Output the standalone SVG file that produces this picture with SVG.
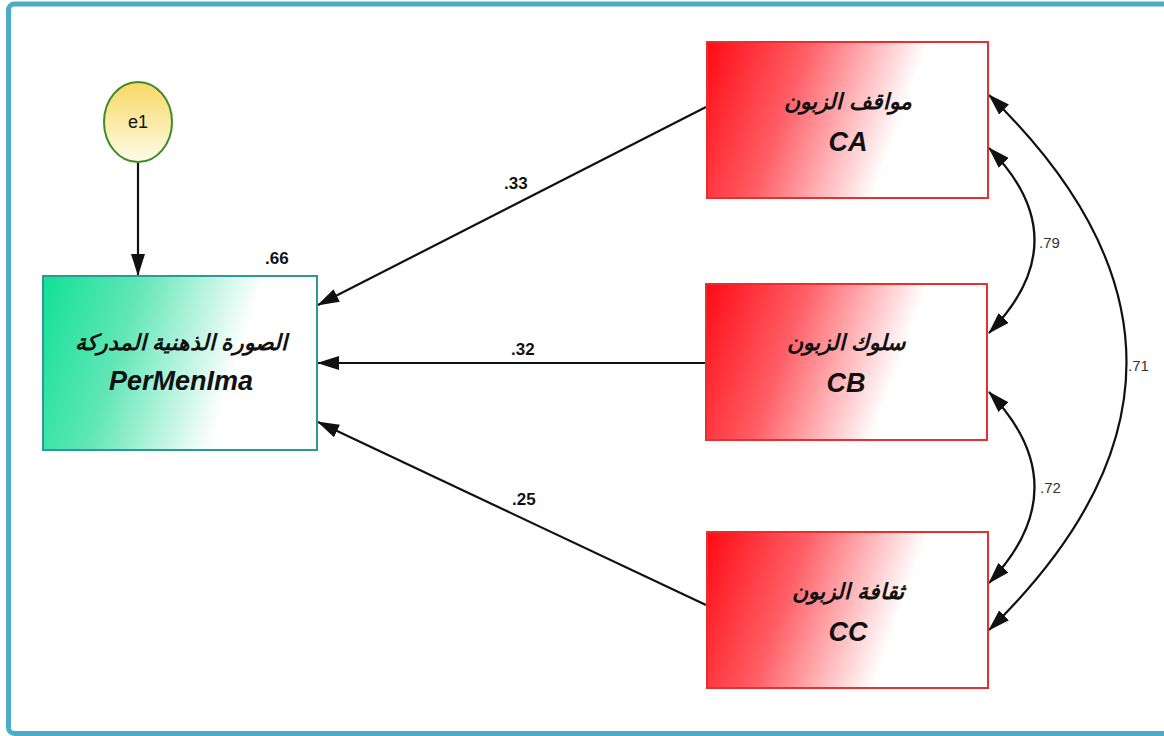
<svg xmlns="http://www.w3.org/2000/svg" width="1164" height="736" viewBox="0 0 1164 736">
<style>
.lbl{font-family:"Liberation Sans","DejaVu Sans",sans-serif;font-weight:bold;font-size:17px;fill:#111}
.cor{font-family:"Liberation Sans","DejaVu Sans",sans-serif;font-size:15px;fill:#333}
.ar{font-family:"Liberation Sans","DejaVu Sans",sans-serif;font-weight:bold;font-style:italic;font-size:22px;fill:#111;text-anchor:middle}
.en{font-family:"Liberation Sans","DejaVu Sans",sans-serif;font-weight:bold;font-style:italic;font-size:27px;fill:#111;text-anchor:middle}
.conn{stroke:#111;stroke-width:2.2;fill:none}
.red{fill:url(#gRed);stroke:#e53030;stroke-width:2}
</style>
<defs>
<linearGradient id="gRed" x1="0" y1="0" x2="1" y2="0.2">
<stop offset="0" stop-color="#ff0a14"/>
<stop offset="0.35" stop-color="#ff5e66"/>
<stop offset="0.76" stop-color="#ffffff"/>
</linearGradient>
<linearGradient id="gGreen" x1="0" y1="0" x2="1" y2="0.2">
<stop offset="0" stop-color="#12e096"/>
<stop offset="0.35" stop-color="#62e6b8"/>
<stop offset="0.78" stop-color="#ffffff"/>
</linearGradient>
<linearGradient id="gYel" x1="0" y1="0" x2="0" y2="1">
<stop offset="0" stop-color="#f7d964"/>
<stop offset="1" stop-color="#fffbe8"/>
</linearGradient>
<marker id="ah" viewBox="0 0 22 14" refX="21" refY="7" markerWidth="22" markerHeight="14" markerUnits="userSpaceOnUse" orient="auto-start-reverse">
<path d="M0,0 L22,7 L0,14 Z" fill="#111"/>
</marker>
</defs>
<rect x="0" y="0" width="1164" height="736" fill="#fff"/>
<rect x="8.5" y="4" width="1170" height="729.5" rx="6" fill="none" stroke="#4aacc6" stroke-width="5"/>

<g id="connectors">
<line class="conn" x1="138" y1="163" x2="138" y2="275" marker-end="url(#ah)"/>
<line class="conn" x1="706" y1="107" x2="318" y2="305" marker-end="url(#ah)"/>
<line class="conn" x1="706" y1="363" x2="318" y2="363" marker-end="url(#ah)"/>
<line class="conn" x1="706" y1="605" x2="318" y2="422" marker-end="url(#ah)"/>
<path class="conn" d="M989,148 Q1080,240 989,333" marker-start="url(#ah)" marker-end="url(#ah)"/>
<path class="conn" d="M989,392 Q1080,487 989,583" marker-start="url(#ah)" marker-end="url(#ah)"/>
<path class="conn" d="M989,95 Q1264,362 989,630" marker-start="url(#ah)" marker-end="url(#ah)"/>
<text class="lbl" x="504" y="189">.33</text>
<text class="lbl" x="511" y="355">.32</text>
<text class="lbl" x="512" y="505">.25</text>
<text class="lbl" x="265" y="264">.66</text>
<text class="cor" x="1039" y="248">.79</text>
<text class="cor" x="1040" y="493">.72</text>
<text class="cor" x="1128" y="371">.71</text>
</g>

<g id="e1">
<ellipse cx="138" cy="122" rx="34" ry="40" fill="url(#gYel)" stroke="#3f8a2a" stroke-width="2"/>
<text x="138" y="128" font-family="Liberation Sans, DejaVu Sans, sans-serif" font-size="18" fill="#111" text-anchor="middle">e1</text>
</g>

<g id="PerMenIma">
<rect x="43" y="276" width="274" height="174" fill="url(#gGreen)" stroke="#2a9a96" stroke-width="2"/>
<text class="ar" x="181" y="350">الصورة الذهنية المدركة</text>
<text class="en" x="181" y="390">PerMenIma</text>
</g>

<g id="CA">
<rect class="red" x="707" y="42" width="281" height="156"/>
<text class="ar" x="848" y="109">مواقف الزبون</text>
<text class="en" x="848" y="151">CA</text>
</g>

<g id="CB">
<rect class="red" x="706" y="284" width="281" height="156"/>
<text class="ar" x="846" y="350">سلوك الزبون</text>
<text class="en" x="846" y="392">CB</text>
</g>

<g id="CC">
<rect class="red" x="707" y="532" width="281" height="156"/>
<text class="ar" x="848" y="599">ثقافة الزبون</text>
<text class="en" x="848" y="641" font-style="normal">CC</text>
</g>
</svg>
